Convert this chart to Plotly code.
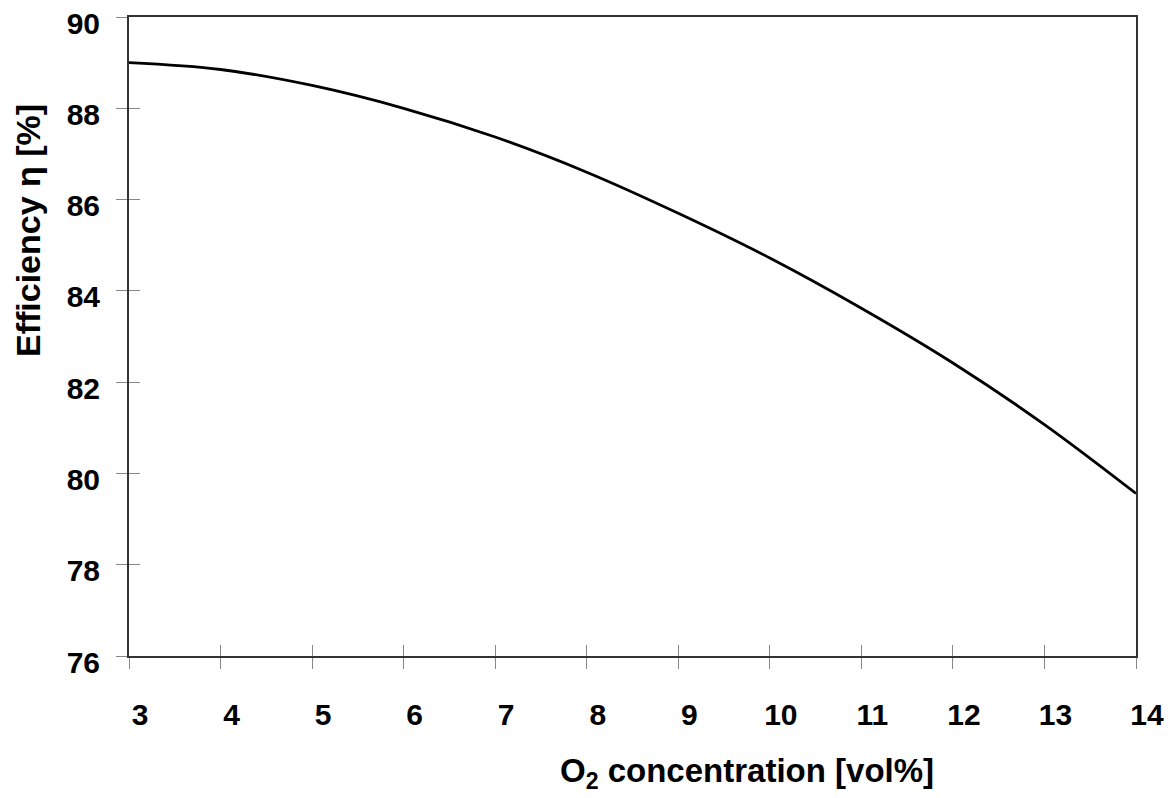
import plotly.graph_objects as go

o2_conc = [3, 4, 5, 6, 7, 8, 9, 10, 11, 12, 13, 14]
efficiency = [89.0, 88.85, 88.5, 88.0, 87.37, 86.6, 85.7, 84.72, 83.62, 82.42, 81.07, 79.56]
x_ticks = list(range(3, 15))
y_ticks = [76, 78, 80, 82, 84, 86, 88, 90]

FONT = "Liberation Sans, Arial, sans-serif"

fig = go.Figure()
fig.add_trace(go.Scatter(x=o2_conc, y=efficiency, mode="lines",
                         line=dict(color="black", width=2.8, shape="spline", smoothing=1.0),
                         showlegend=False, hoverinfo="skip"))
# invisible trace on secondary axes so their cross-ticks render
fig.add_trace(go.Scatter(x=[3, 14], y=[76, 90], xaxis="x2", yaxis="y2", mode="markers",
                         marker=dict(opacity=0), showlegend=False, hoverinfo="skip"))

tickfont = dict(family=FONT, size=30, color="black", weight="bold")

fig.update_layout(
    width=1174, height=798,
    margin=dict(l=129, r=38, t=17, b=142, autoexpand=False),
    plot_bgcolor="white", paper_bgcolor="white",
    xaxis=dict(range=[3, 14], tickvals=x_ticks, ticks="outside", ticklen=11, tickwidth=1,
               tickcolor="#888", showline=True, linecolor="#333", linewidth=2, mirror=True,
               showgrid=False, zeroline=False, tickfont=tickfont, automargin=False,
               ticklabelstandoff=20, ticklabelshift=11, ticklabeloverflow="allow"),
    yaxis=dict(range=[76, 90], tickvals=y_ticks, ticks="outside", ticklen=11, tickwidth=1,
               tickcolor="#888", showline=True, linecolor="#333", linewidth=2, mirror=True,
               showgrid=False, zeroline=False, tickfont=tickfont, automargin=False,
               ticklabelstandoff=10, ticklabelshift=6, ticklabeloverflow="allow"),
    xaxis2=dict(range=[3, 14], tickvals=x_ticks, ticks="inside", ticklen=11, tickwidth=1,
                tickcolor="#888", overlaying="x", anchor="y", side="bottom",
                showticklabels=False, showgrid=False, zeroline=False, showline=False),
    yaxis2=dict(range=[76, 90], tickvals=y_ticks, ticks="inside", ticklen=11, tickwidth=1,
                tickcolor="#888", overlaying="y", anchor="x", side="left",
                showticklabels=False, showgrid=False, zeroline=False, showline=False),
    annotations=[
        dict(text="O<sub>2</sub> concentration [vol%]", xref="paper", yref="paper",
             x=(747 - 129) / (1136 - 129), y=-(773 - 656) / (656 - 17),
             xanchor="center", yanchor="middle", showarrow=False,
             font=dict(family=FONT, size=33, color="black", weight="bold")),
        dict(text="Efficiency η [%]", xref="paper", yref="paper",
             x=-(129 - 28) / (1136 - 129), y=(656 - 231) / (656 - 17),
             xanchor="center", yanchor="middle", showarrow=False, textangle=-90,
             font=dict(family=FONT, size=34, color="black", weight="bold")),
    ],
)

fig.write_html("out.html")
